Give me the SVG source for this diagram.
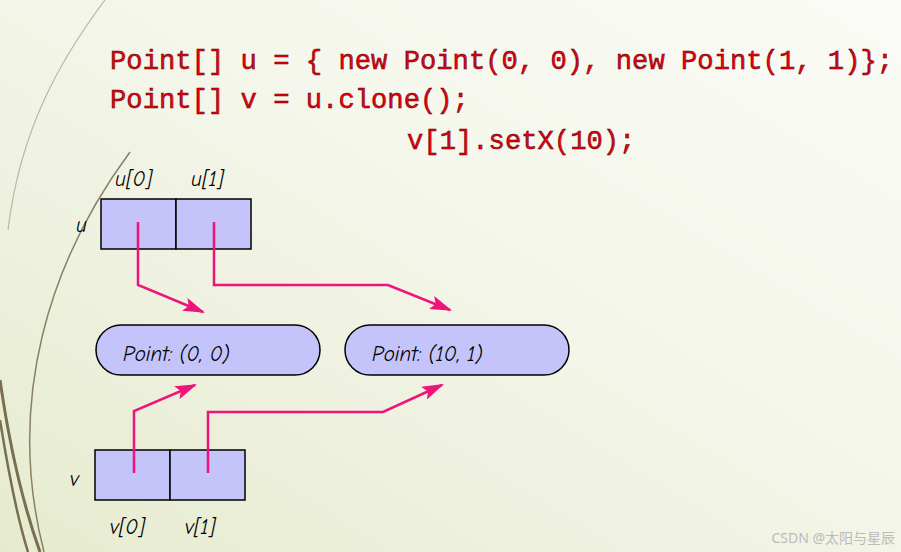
<svg xmlns="http://www.w3.org/2000/svg" width="901" height="552" viewBox="0 0 901 552">
<defs>
<linearGradient id="bg" x1="0" y1="1" x2="1" y2="0"><stop offset="0" stop-color="#e6ebcf"/><stop offset="0.6" stop-color="#f5f7ec"/><stop offset="1" stop-color="#fafbf6"/></linearGradient>
<marker id="a" viewBox="0 0 10 10" refX="9" refY="5" markerWidth="22" markerHeight="14" orient="auto" markerUnits="userSpaceOnUse" preserveAspectRatio="none"><path d="M0,0 L10,5 L0,10 L2,5 z" fill="#f0137c"/></marker>
<style>
.code{font-family:"Liberation Mono","DejaVu Sans Mono",monospace;font-size:27.2px;fill:#e80010;stroke:#500;stroke-width:0.5}
.lbl{font-family:"Comic Neue","Liberation Sans",cursive,sans-serif;font-size:21px;font-style:italic;fill:#000}
.box{fill:#c4c4fb;stroke:#000;stroke-width:1.5}
.c{fill:none;stroke:#f0137c;stroke-width:2.5}
</style>
</defs>
<rect width="901" height="552" fill="url(#bg)"/>
<g fill="none">
<path d="M105,0 C60,60 20,130 8,230" stroke="#b8b8a8" stroke-width="1.2"/>
<path d="M130,152 C50,260 5,400 44,552" stroke="#8a8064" stroke-width="1.5"/>
<path d="M0,380 C10,450 25,510 40,552" stroke="#7a6e50" stroke-width="3"/>
<path d="M0,420 C8,470 18,520 28,552" stroke="#7a6e50" stroke-width="2.5"/>
</g>
<g id="code">
<text class="code" x="110" y="69">Point[] u = { new Point(0, 0), new Point(1, 1)};</text>
<text class="code" x="110" y="108">Point[] v = u.clone();</text>
<text class="code" x="407" y="149">v[1].setX(10);</text>
</g>
<g id="u">
<rect class="box" x="101" y="199" width="75" height="50"/><rect class="box" x="176" y="199" width="75" height="50"/>
<text class="lbl" x="76" y="232">u</text>
<text class="lbl" x="115" y="186">u[0]</text><text class="lbl" x="191" y="186">u[1]</text>
</g>
<g id="v">
<rect class="box" x="95" y="450" width="75" height="50"/><rect class="box" x="170" y="450" width="75" height="50"/>
<text class="lbl" x="70" y="486">v</text>
<text class="lbl" x="110" y="534">v[0]</text><text class="lbl" x="185" y="534">v[1]</text>
</g>
<g id="p1"><rect class="box" x="96" y="325" width="224" height="50" rx="25"/><text class="lbl" x="123" y="361">Point: (0, 0)</text></g>
<g id="p2"><rect class="box" x="345" y="325" width="224" height="50" rx="25"/><text class="lbl" x="372" y="361">Point: (10, 1)</text></g>
<g id="connectors">
<path class="c" d="M138,222 V285 L203,312" marker-end="url(#a)"/>
<path class="c" d="M214,222 V285 H388 L450,310" marker-end="url(#a)"/>
<path class="c" d="M134,473 V411 L195,385" marker-end="url(#a)"/>
<path class="c" d="M208,473 V412 H383 L442,385" marker-end="url(#a)"/>
</g>
<text x="895" y="543" text-anchor="end" font-family="'Noto Sans','Noto Sans CJK SC',sans-serif" font-size="14" fill="#bbb">CSDN @太阳与星辰</text>
</svg>
